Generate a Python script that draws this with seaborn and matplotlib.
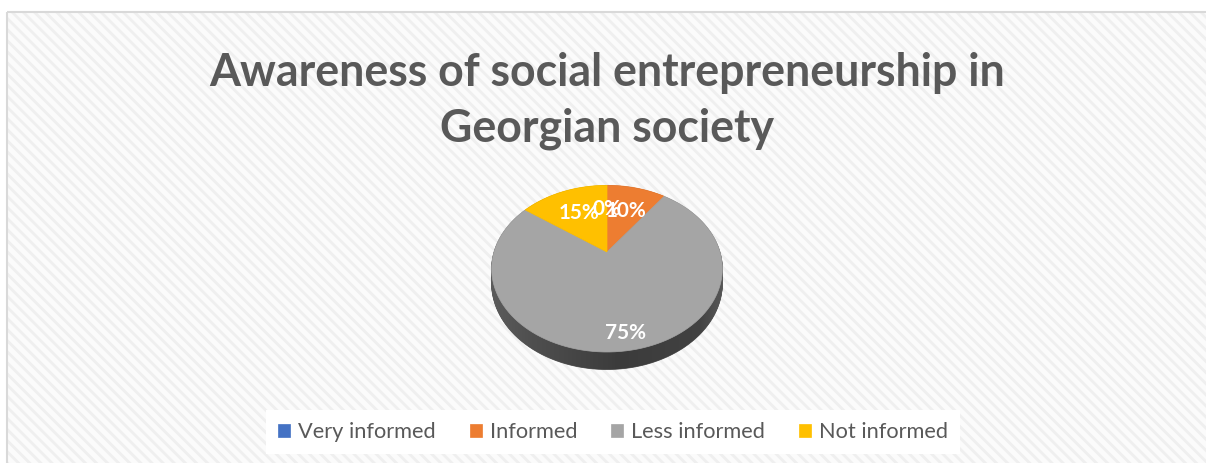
import numpy as np
import matplotlib
matplotlib.use("Agg")
import matplotlib.pyplot as plt
import seaborn as sns
from matplotlib.patches import Rectangle, Polygon

# ---------------- data ----------------
categories = ["Very informed", "Informed", "Less informed", "Not informed"]
values = [0, 10, 75, 15]
colors = ["#4472C4", "#ED7D31", "#A5A5A5", "#FFC000"]
title_lines = ["Awareness of social entrepreneurship in", "Georgian society"]

# ---------------- style ----------------
sns.set_theme(style="white")
plt.rcParams["font.family"] = ["Lato", "DejaVu Sans"]
plt.rcParams["hatch.linewidth"] = 2.0

W, H = 1206, 463
fig = plt.figure(figsize=(W / 100, H / 100), dpi=100)
ax = fig.add_axes([0, 0, 1, 1])

wedges, texts, autotexts = ax.pie(
    values, colors=colors, startangle=90, counterclock=False,
    autopct=lambda p: f"{p:.0f}%", pctdistance=1.0, radius=1.0, center=(0, 0))
ax.set_aspect("auto")
ax.set_xlim(0, W)
ax.set_ylim(H, 0)
ax.axis("off")

# background (hatched chart area + light border)
ax.add_patch(Rectangle((7, 12), W, H, facecolor="#fbfbfb", edgecolor="#efefef",
                       hatch="\\\\\\", linewidth=0, zorder=0))
ax.add_patch(Rectangle((7, 12), W, H, facecolor="none", edgecolor="#d9d9d9",
                       linewidth=1.5, zorder=0.5))

# perspective projection of the unit pie onto the page
cx, cy = 607, 252
A, B, C = 80.0, 0.2, 113.0
D = 14.0


def proj(xy, depth=0.0):
    x, y = xy[:, 0], xy[:, 1]
    s = 1.0 / (1.0 + B * y)
    return np.column_stack([cx + C * x * s, cy - A * y * s + depth * s])


def wedge_poly(w, n=120):
    th = np.radians(np.linspace(w.theta1, w.theta2, n))
    c0 = np.array(w.center)
    arc = np.column_stack([c0[0] + w.r * np.cos(th), c0[1] + w.r * np.sin(th)])
    return np.vstack([c0, arc])


def darken(c, f):
    rgb = np.array(matplotlib.colors.to_rgb(c))
    return tuple(rgb * f)


unit_polys = [wedge_poly(w) for w in wedges]
face_colors = [w.get_facecolor() for w in wedges]
for w in wedges:
    w.remove()

# side of the 3D pie
N = 28
for k in range(N, 0, -1):
    t = k / N
    for i, up in enumerate(unit_polys):
        sc = darken(face_colors[i], 0.55)
        ax.add_patch(Polygon(proj(up, D * t), closed=True, facecolor=sc,
                             edgecolor=sc, linewidth=0.6, zorder=2))

# horizontal shading across the side
th = np.radians(np.linspace(0, 360, 361))
circ = np.column_stack([np.cos(th), np.sin(th)])
upper = circ[circ[:, 1] >= 0]
lower = circ[circ[:, 1] < 0]
outline = np.vstack([proj(upper), proj(lower, D)])
clip = Polygon(outline, closed=True, transform=ax.transData)
xmin, xmax = outline[:, 0].min(), outline[:, 0].max()
u = np.linspace(0, 1, 300)
alpha = np.interp(u, [0, 0.15, 0.55, 0.9, 1.0], [0.0, 0.12, 0.35, 0.28, 0.05])
img = np.zeros((1, 300, 4))
img[0, :, 3] = alpha
im = ax.imshow(img, extent=(xmin, xmax, outline[:, 1].max() + 2, cy), aspect="auto",
               zorder=2.5, interpolation="bilinear")
im.set_clip_path(clip)
ax.set_xlim(0, W)
ax.set_ylim(H, 0)

# top faces
tops = []
for i, up in enumerate(unit_polys):
    p = Polygon(proj(up), closed=True, facecolor=face_colors[i],
                edgecolor=face_colors[i], linewidth=0.5, zorder=3)
    ax.add_patch(p)
    tops.append(p)

fig.canvas.draw()
rend = fig.canvas.get_renderer()


def fit(text_obj, target):
    w = text_obj.get_window_extent(rend).width
    text_obj.set_fontsize(text_obj.get_fontsize() * target / w)
    return text_obj.get_fontsize()


# data labels
label_r = [0.6, 0.6, 0.85, 0.6]
for i, t in enumerate(autotexts):
    x, y = t.get_position()
    n = np.hypot(x, y)
    p = proj(np.array([[x / n * label_r[i], y / n * label_r[i]]]))[0]
    t.set_position(p)
    t.set_color("white")
    t.set_fontweight("bold")
    t.set_fontsize(14)
    t.set_zorder(4)
fs_lab = fit(autotexts[2], 41)
for t in autotexts:
    t.set_fontsize(fs_lab)

# title
t1 = ax.text(607, 86, title_lines[0], ha="center", va="baseline", fontsize=30,
             fontweight="bold", color="#595959", zorder=4)
fs_t = fit(t1, 795)
ax.text(607, 141, title_lines[1], ha="center", va="baseline", fontsize=fs_t,
        fontweight="bold", color="#595959", zorder=4)

# legend
tmp = ax.text(0, 0, categories[0], fontsize=14)
fs_leg = fit(tmp, 138)
tmp.remove()
px = fs_leg * 100 / 72
leg = ax.legend(handles=tops, labels=categories, loc="center",
                bbox_to_anchor=(613 / W, 1 - 432 / H), ncol=4, frameon=True,
                fontsize=fs_leg, handlelength=12 / px, handleheight=12 / px,
                handletextpad=8 / px, columnspacing=34 / px, borderpad=0.55,
                fancybox=False)
fr = leg.get_frame()
fr.set_facecolor("white")
fr.set_edgecolor("none")
fr.set_alpha(1)
leg.set_zorder(5)
for t in leg.get_texts():
    t.set_color("#595959")

fig.savefig("out.png", dpi=100)
